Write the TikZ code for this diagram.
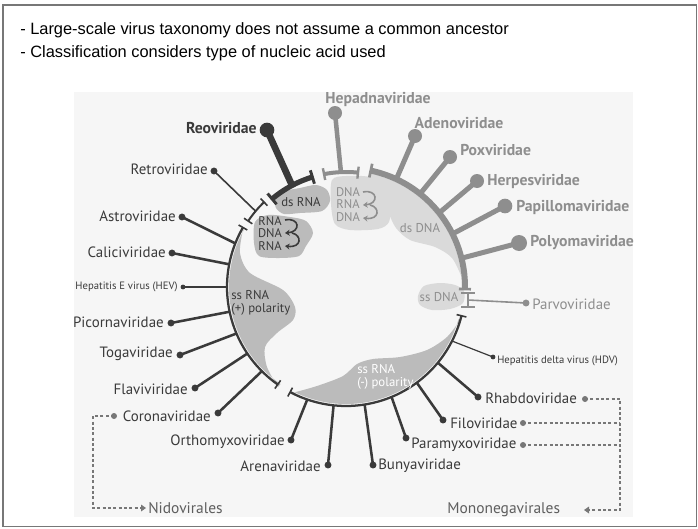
\documentclass[tikz,border=0pt]{standalone}
\usepackage{fontspec}
\setmainfont{Liberation Sans}
\newfontfamily\lab{PT Sans}
\usetikzlibrary{arrows.meta}
\definecolor{dk}{HTML}{3A3A3A}
\definecolor{gy}{HTML}{8E8E8E}
\definecolor{blobA}{HTML}{BBBBBB}
\definecolor{blobB}{HTML}{DADADA}
\definecolor{bgc}{HTML}{F6F6F6}
\definecolor{dsh}{HTML}{777777}
\definecolor{ordc}{HTML}{5E5E5E}
\begin{document}
\begin{tikzpicture}[x=0.75pt,y=-0.75pt,
  lab/.style={font=\lab\fontsize{11.2}{13}\selectfont, inner sep=0, text=dk},
  labb/.style={lab, font=\lab\bfseries\fontsize{11.8}{13}\selectfont},
  labs/.style={lab, font=\lab\fontsize{8}{9}\selectfont},
  inlab/.style={font=\lab\fontsize{9.6}{10}\selectfont, inner sep=0, align=left},
  stk/.style={font=\lab\fontsize{9.4}{10}\selectfont, inner sep=0},
  bigball/.style={circle, inner sep=0, minimum size=10.5pt},
  smlball/.style={circle, inner sep=0, fill=dk, minimum size=5.2pt},
  tinyball/.style={circle, inner sep=0, fill=dk, minimum size=3.6pt},
  dball/.style={circle, inner sep=0, fill=dsh, minimum size=4.5pt},
  thinspoke/.style={draw=dk, line width=1.9pt},
  hairspoke/.style={draw=dk, line width=0.9pt},
  gspoke/.style={draw=gy, line width=3.75pt},
  dline/.style={draw=dsh, line width=0.9pt, dash pattern=on 2.2pt off 1.8pt},
  curlyd/.style={draw=dk, line width=1.2pt, -{Stealth[length=3.5pt,width=4.5pt]}},
  curlyg/.style={draw=gy, line width=1.2pt, -{Stealth[length=3.5pt,width=4.5pt]}}]
\path[use as bounding box] (0,0) rectangle (698,528);
% slide frame and picture background
\draw[draw=dsh, line width=1.1pt] (3,5) rectangle (696.5,526.5);
\fill[bgc] (74,92) rectangle (633,517);
% header
\node[anchor=base west, inner sep=0, font=\fontsize{12.3}{15}\selectfont] (h1) at (20,35) {- Large-scale virus taxonomy does not assume a common ancestor};
\node[anchor=base west, inner sep=0, font=\fontsize{12.3}{15}\selectfont] (h2) at (20,57) {- Classification considers type of nucleic acid used};

% small blobs (pixel coordinates)
\fill[blobA] plot[smooth cycle] coordinates {(276,199) (286,191) (300,188) (316,185) (327,190) (330,201) (322,211) (300,213) (284,214) (276,208)};
\fill[blobA] plot[smooth cycle] coordinates {(255,222) (268,215) (290,217) (306,221) (313,233) (306,246) (299,256) (279,258) (259,256) (254,243)};
\fill[blobB] plot[smooth cycle] coordinates {(332,180) (346,176) (370,177) (384,186) (390,205) (389,222) (378,229) (350,230) (335,224) (331,204)};
\fill[blobB] plot[smooth cycle] coordinates {(418,296) (424,286) (440,283) (455,285) (464,291) (463,303) (450,309) (432,310) (420,305)};

\begin{scope}[shift={(346,287)}, x=0.75pt, y=0.75pt]
  % large blobs
  \fill[blobA] (151:117) arc[start angle=151, end angle=236, radius=117]
     -- plot[smooth] coordinates {(-68,-100) (-79,-80) (-81,-60) (-69,-46) (-53,-33) (-51,-20) (-63,-3) (-96,14) (-106,34) (-103,57)} -- cycle;
  \fill[blobA] (-116:117) arc[start angle=-116, end angle=-16, radius=117]
     -- plot[smooth] coordinates {(114,-33) (101,-50) (81,-63) (54,-70) (27,-72) (11,-77) (-3,-89) (-29,-99) (-54,-106)} -- cycle;
  \fill[blobB] (2:116) arc[start angle=2, end angle=78, radius=116]
     -- plot[smooth] coordinates {(24,112) (32,94) (42,75) (50,59) (64,47) (89,40) (106,29) (116,9)} -- cycle;
  % ds RNA cap
  \draw[dk, line width=3.9pt] (107:115) arc[start angle=107, end angle=130, radius=115];
  \draw[dk, line width=2.2pt] (107:108) -- (107:122) (130:108) -- (130:122);
  % Hepadnaviridae cap
  \draw[gy, line width=3pt] (84:115) arc[start angle=84, end angle=101, radius=115];
  \draw[gy, line width=1.8pt] (84:109) -- (84:121) (101:109) -- (101:121);
  % ds DNA arc
  \draw[gy, line width=4.5pt] (78:119) arc[start angle=78, end angle=-1, radius=119];
  \draw[gy, line width=2pt] (78:112) -- (78:126) (-1:113) -- (-1:125);
  % Retroviridae cap
  \draw[dk, line width=1.5pt] (134:118) arc[start angle=134, end angle=146, radius=118];
  \draw[dk, line width=1.2pt] (134:113) -- (134:123) (146:113) -- (146:123);
  % ss RNA (+) arc
  \draw[dk, line width=1.7pt] (150:119) arc[start angle=150, end angle=235, radius=119];
  \draw[dk, line width=1.2pt] (150:114) -- (150:124) (235:114) -- (235:124);
  % ss RNA (-) arc
  \draw[dk, line width=1.7pt] (-14:119) arc[start angle=-14, end angle=-118, radius=119];
  \draw[dk, line width=1.2pt] (-14:114) -- (-14:124) (-118:114) -- (-118:124);
  % attachment points
  \coordinate (a-reo) at (118:114);
  \coordinate (a-hep) at (92.5:114);
  \coordinate (a-ade) at (65:119);
  \coordinate (a-pox) at (51.5:119);
  \coordinate (a-her) at (38.5:119);
  \coordinate (a-pap) at (26.5:119);
  \coordinate (a-pol) at (14:119);
  \coordinate (a-ret) at (140:118);
  \coordinate (a-ast) at (158.5:119);
  \coordinate (a-cal) at (169:119);
  \coordinate (a-hev) at (180:119);
  \coordinate (a-pic) at (192:119);
  \coordinate (a-tog) at (203:119);
  \coordinate (a-fla) at (214:119);
  \coordinate (a-cor) at (225:119);
  \coordinate (a-ort) at (-109:119);
  \coordinate (a-are) at (-96:119);
  \coordinate (a-bun) at (-81:119);
  \coordinate (a-par) at (-67.5:119);
  \coordinate (a-fil) at (-53.5:119);
  \coordinate (a-rha) at (-39.5:119);
  \coordinate (a-hdv) at (-27:119);
\end{scope}

% ss DNA I-beam
\coordinate (sd-top) at (468,293);
\coordinate (sd-bot) at (468,307);
\coordinate (a-prv) at (468,300);
\draw[gy, line width=1.5pt] (sd-top) -- (sd-bot);
\draw[gy, line width=1.2pt] ([xshift=-5]sd-top) -- ([xshift=5]sd-top) ([xshift=-5]sd-bot) -- ([xshift=5]sd-bot);

% blob texts
\node[inlab, text=dk] (t-dsrna) at (301,202) {ds RNA};
\node[stk, text=dk] (t-r1) at (270,221) {RNA};
\node[stk, text=dk] (t-r2) at (270,233.5) {DNA};
\node[stk, text=dk] (t-r3) at (270,246) {RNA};
\node[stk, text=gy] (t-d1) at (348,192) {DNA};
\node[stk, text=gy] (t-d2) at (348,204.5) {RNA};
\node[stk, text=gy] (t-d3) at (348,217) {DNA};
\node[inlab, text=gy] (t-dsdna) at (420,228) {ds DNA};
\node[inlab, text=gy] (t-ssdna) at (439,297) {ss DNA};
\node[inlab, text=dk, anchor=west] (t-ssp) at (231,303) {ss RNA\\(+) polarity};
\node[inlab, text=white, anchor=west] (t-ssm) at (357,377) {ss RNA\\(-) polarity};

% curly arrows
\coordinate (c1a) at (285,220); \coordinate (c1b) at (285,233);
\coordinate (c1c) at (292,233); \coordinate (c1d) at (285,246);
\draw[curlyd] (c1a) .. controls (300,217) and (301,232) .. (c1b);
\draw[curlyd] (c1c) .. controls (302,235) and (302,248) .. (c1d);
\coordinate (c2a) at (363,192); \coordinate (c2b) at (363,205);
\coordinate (c2c) at (370,205); \coordinate (c2d) at (363,218);
\draw[curlyg] (c2a) .. controls (378,189) and (379,204) .. (c2b);
\draw[curlyg] (c2c) .. controls (380,207) and (380,220) .. (c2d);

% balls
\node[bigball, fill=dk, minimum size=11pt] (b-reo) at (267,130) {};
\node[bigball, fill=gy] (b-hep) at (335,113) {};
\node[bigball, fill=gy] (b-ade) at (415,136) {};
\node[bigball, fill=gy] (b-pox) at (450,157) {};
\node[bigball, fill=gy] (b-her) at (477,181) {};
\node[bigball, fill=gy, minimum size=11pt] (b-pap) at (505,206) {};
\node[bigball, fill=gy, minimum size=12pt] (b-pol) at (519,243) {};
\node[smlball, fill=gy] (b-prv) at (526,303) {};
\node[smlball] (b-ret) at (214,171) {};
\node[smlball] (b-ast) at (182,217) {};
\node[smlball] (b-cal) at (172,253) {};
\node[tinyball] (b-hev) at (183,287) {};
\node[smlball] (b-pic) at (171,323) {};
\node[smlball] (b-tog) at (180,355) {};
\node[smlball] (b-fla) at (195,388) {};
\node[smlball] (b-cor) at (218,413) {};
\node[smlball] (b-ort) at (291,440) {};
\node[smlball] (b-are) at (328,465) {};
\node[smlball] (b-bun) at (373,465) {};
\node[smlball] (b-par) at (406,438) {};
\node[smlball] (b-fil) at (443,420) {};
\node[smlball] (b-rha) at (478,397) {};
\node[tinyball] (b-hdv) at (493,357) {};

% spokes
\draw[dk, line width=5pt] (a-reo) -- (b-reo.center);
\draw[gy, line width=3.4pt] (a-hep) -- (b-hep.center);
\foreach \n in {ade,pox,her,pap,pol} { \draw[gspoke] (a-\n) -- (b-\n.center); }
\draw[gy, line width=1.2pt] (a-prv) -- (b-prv.center);
\draw[dk, line width=1.2pt] (a-ret) -- (b-ret.center);
\foreach \n in {ast,cal,pic,tog,fla,cor,ort,are,bun,par,fil,rha} { \draw[thinspoke] (a-\n) -- (b-\n.center); }
\draw[hairspoke] (a-hev) -- (b-hev.center);
\draw[hairspoke] (a-hdv) -- (b-hdv.center);

% labels
\node[labb, anchor=east] (l-reo) at (257,128) {Reoviridae};
\node[labb, text=gy] (l-hep) at (378,99) {Hepadnaviridae};
\node[labb, text=gy] (l-ade) at (459,123) {Adenoviridae};
\node[labb, text=gy, anchor=west] (l-pox) at (460,150) {Poxviridae};
\node[labb, text=gy, anchor=west] (l-her) at (487,181) {Herpesviridae};
\node[labb, text=gy, anchor=west] (l-pap) at (516,207) {Papillomaviridae};
\node[labb, text=gy, anchor=west] (l-pol) at (530,243) {Polyomaviridae};
\node[lab, text=gy, anchor=west] (l-prv) at (532,304) {Parvoviridae};
\node[lab, anchor=east] (l-ret) at (208,169) {Retroviridae};
\node[lab, anchor=east] (l-ast) at (176,216) {Astroviridae};
\node[lab, anchor=east] (l-cal) at (166,252) {Caliciviridae};
\node[labs, anchor=east] (l-hev) at (178,287) {Hepatitis E virus (HEV)};
\node[lab, anchor=east] (l-pic) at (164,322) {Picornaviridae};
\node[lab, anchor=east] (l-tog) at (173,354) {Togaviridae};
\node[lab, anchor=east] (l-fla) at (188,389) {Flaviviridae};
\node[lab, anchor=east] (l-cor) at (211,416) {Coronaviridae};
\node[lab, anchor=east] (l-ort) at (285,442) {Orthomyxoviridae};
\node[lab, anchor=east] (l-are) at (321,466) {Arenaviridae};
\node[lab, anchor=west] (l-bun) at (378,466) {Bunyaviridae};
\node[lab, anchor=west] (l-par) at (411,445) {Paramyxoviridae};
\node[lab, anchor=west] (l-fil) at (450,423) {Filoviridae};
\node[lab, anchor=west] (l-rha) at (485,398) {Rhabdoviridae};
\node[labs, anchor=west] (l-hdv) at (497,361) {Hepatitis delta virus (HDV)};
\node[lab, text=ordc, font=\lab\fontsize{11.6}{13}\selectfont, anchor=west] (l-nido) at (148,508) {Nidovirales};
\node[lab, text=ordc, font=\lab\fontsize{11.6}{13}\selectfont, anchor=west] (l-mono) at (447,510) {Mononegavirales};

% dashed order brackets
\node[dball] (d-cor) at (114,416) {};
\node[dball] (d-rha) at (585,399) {};
\node[dball] (d-fil) at (523,423) {};
\node[dball] (d-par) at (523,445) {};
\coordinate (nido-c) at (93,508);
\coordinate (nido-tip) at (146,508);
\coordinate (mono-c) at (620,510);
\coordinate (mono-tip) at (584,510);
\draw[dline] (d-cor.center) -| (nido-c) -- ([xshift=-4]nido-tip);
\fill[dsh] (nido-tip) -- ++(-5,-3.5) -- ++(0,7) -- cycle;
\draw[dline] (d-rha.center) -| (mono-c) -- ([xshift=4]mono-tip);
\fill[dsh] (mono-tip) -- ++(5,-3.5) -- ++(0,7) -- cycle;
\draw[dline] (d-fil.center) -- (d-fil -| mono-c);
\draw[dline] (d-par.center) -- (d-par -| mono-c);
\end{tikzpicture}
\end{document}
